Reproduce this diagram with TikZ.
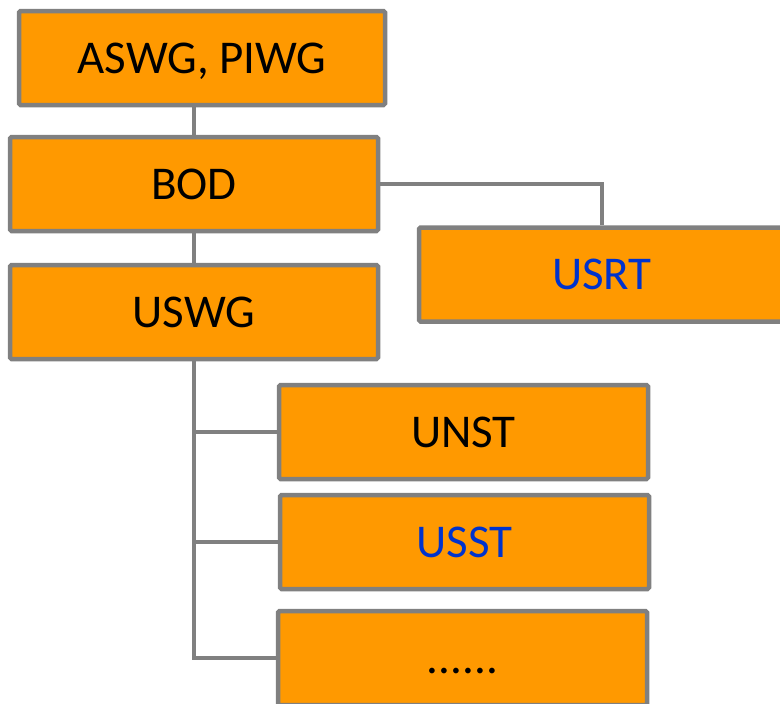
\documentclass[tikz,border=0pt]{standalone}
\usepackage{fontspec}
\setmainfont{Carlito}
\usepackage{tikz}
\usetikzlibrary{positioning,calc}
\definecolor{boxfill}{HTML}{FF9900}
\definecolor{boxline}{HTML}{808080}
\definecolor{linkblue}{HTML}{0033CC}

\begin{document}
\begin{tikzpicture}[x=1pt, y=-1pt,
    orgbox/.style={draw=boxline, fill=boxfill, line width=4.5pt, rounded corners=1.5pt,
        minimum width=366pt, minimum height=94pt, inner sep=0pt,
        font=\fontsize{47}{50}\selectfont, text height=30pt, text depth=0pt},
    link/.style={draw=boxline, line width=4.5pt}]
    % Canvas
    \useasboundingbox (0,0) rectangle (780,704);
    \clip (0,0) rectangle (780,704);

    % Boxes
    \node[orgbox] (wg)   at (202, 58)  {ASWG, PIWG};
    \node[orgbox, minimum width=368pt] (bod)  at (194, 184) {BOD};
    \node[orgbox, text=linkblue] (usrt) at (602, 274.5) {USRT};
    \node[orgbox, minimum width=368pt] (uswg) at (194, 312) {USWG};
    \node[orgbox, minimum width=369pt] (unst) at (463.5, 432) {UNST};
    \node[orgbox, minimum width=369pt, text=linkblue] (usst) at (464.5, 542) {USST};
    \node[orgbox, minimum width=369pt] (more) at (462.5, 658) {......};

    % Links
    \draw[link] (bod.north) -- (bod.north |- wg.south);
    \draw[link] (bod.south) -- (uswg.north);
    \draw[link] (bod.east) -| (usrt.north);
    \draw[link] (uswg.south) |- (unst.west);
    \draw[link] (uswg.south) |- (usst.west);
    \draw[link] (uswg.south) |- (more.west);
\end{tikzpicture}
\end{document}
